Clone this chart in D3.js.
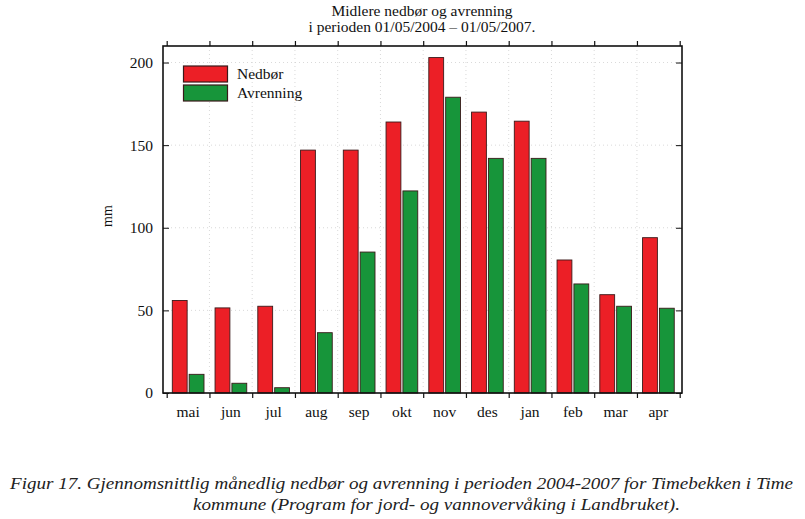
<!DOCTYPE html>
<html><head><meta charset="utf-8">
<script src="https://cdn.jsdelivr.net/npm/d3@7"></script>
<style>body{margin:0;background:#fff}svg{display:block}</style>
</head><body>
<script>
const months = ["mai","jun","jul","aug","sep","okt","nov","des","jan","feb","mar","apr"];
const nedbor = [56, 51.5, 52.5, 147, 147, 164, 203, 170, 164.5, 80.5, 59.5, 94];
const avrenning = [11.3, 5.9, 3.2, 36.5, 85.3, 122.3, 179, 142, 142, 66, 52.5, 51.3];
const seriesNames = ["Nedbør","Avrenning"];
const seriesColors = ["#ec1f26","#17953a"];
const yTicks = [0, 50, 100, 150, 200];
const titleLines = ["Midlere nedbør og avrenning","i perioden 01/05/2004 – 01/05/2007."];
const captionLines = ["Figur 17. Gjennomsnittlig månedlig nedbør og avrenning i perioden 2004-2007 for Timebekken i Time",
                      "kommune (Program for jord- og vannovervåking i Landbruket)."];

const W = 805, H = 519;
const svg = d3.select("body").append("svg").attr("width", W).attr("height", H);
const font = "'Liberation Serif', 'DejaVu Serif', serif";

const frame = {l:163, r:682, t:46, b:393};
const x = d3.scaleBand().domain(months).range([166.7, 679.7]).padding(0);
const xs = d3.scaleBand().domain(seriesNames).range([5.6, 37.3]).paddingInner(0.12);
const y = d3.scaleLinear().domain([0, 210]).range([frame.b, frame.t]);
const color = d3.scaleOrdinal().domain(seriesNames).range(seriesColors);

// grid
const gridG = svg.append("g").attr("stroke", "#cfcfcf").attr("stroke-width", 0.8).attr("stroke-dasharray", "1,3");
const bounds = months.map(m => x(m)).concat([x.range()[1]]);
gridG.selectAll("line.v").data(bounds.slice(1, -1)).join("line")
  .attr("x1", d => d).attr("x2", d => d).attr("y1", frame.t).attr("y2", frame.b);
gridG.selectAll("line.h").data(yTicks.slice(1)).join("line")
  .attr("x1", frame.l).attr("x2", frame.r).attr("y1", d => y(d)).attr("y2", d => y(d));

// bars
const data = months.map((m, i) => ({m, vals: [nedbor[i], avrenning[i]]}));
const g = svg.append("g");
g.selectAll("g.grp").data(data).join("g")
  .attr("transform", d => `translate(${x(d.m)},0)`)
  .selectAll("rect").data(d => d.vals.map((v, j) => ({s: seriesNames[j], v}))).join("rect")
  .attr("x", d => xs(d.s)).attr("width", xs.bandwidth())
  .attr("y", d => y(d.v)).attr("height", d => y(0) - y(d.v))
  .attr("fill", d => color(d.s)).attr("stroke", "#3a1a1a").attr("stroke-width", 0.9);

// frame
svg.append("rect").attr("x", frame.l).attr("y", frame.t).attr("width", frame.r - frame.l).attr("height", frame.b - frame.t)
  .attr("fill", "none").attr("stroke", "#111").attr("stroke-width", 1.6);

// axes
const yAxisL = d3.axisLeft(y).tickValues(yTicks).tickSize(-6).tickPadding(10).tickFormat(d3.format("d"));
const gl = svg.append("g").attr("transform", `translate(${frame.l},0)`).call(yAxisL);
gl.select(".domain").remove();
gl.selectAll("text").attr("font-family", font).attr("font-size", 15.5).attr("fill", "#111");
gl.selectAll("line").attr("stroke", "#111");

const yAxisR = d3.axisRight(y).tickValues(yTicks).tickSize(-6).tickFormat("");
const gr = svg.append("g").attr("transform", `translate(${frame.r},0)`).call(yAxisR);
gr.select(".domain").remove();
gr.selectAll("line").attr("stroke", "#111");

const tickScale = d3.scaleLinear().domain([0, months.length]).range(x.range());
const tickIdx = d3.range(months.length + 1);
const xAxisB = d3.axisBottom(tickScale).tickValues(tickIdx).tickSize(5).tickFormat("");
const gb = svg.append("g").attr("transform", `translate(0,${frame.b})`).call(xAxisB);
gb.select(".domain").remove();
gb.selectAll("line").attr("stroke", "#111").attr("stroke-width", 1.2);
const xAxisT = d3.axisTop(tickScale).tickValues(tickIdx).tickSize(5).tickFormat("");
const gt = svg.append("g").attr("transform", `translate(0,${frame.t})`).call(xAxisT);
gt.select(".domain").remove();
gt.selectAll("line").attr("stroke", "#111").attr("stroke-width", 1.2);

// month labels
const xLab = d3.axisBottom(x).tickSize(0).tickPadding(0);
const gx = svg.append("g").attr("transform", `translate(0,${frame.b + 13})`).call(xLab);
gx.select(".domain").remove();
gx.selectAll("text").attr("font-family", font).attr("font-size", 15.5).attr("fill", "#111").attr("dy", "0.71em");

// y label
svg.append("text").attr("transform", "translate(112,216) rotate(-90)").attr("text-anchor", "middle")
  .attr("font-family", font).attr("font-size", 14).attr("fill", "#111").text("mm");

// title
svg.selectAll("text.title").data(titleLines).join("text").attr("class", "title")
  .attr("x", 422).attr("y", (d, i) => 16 + i * 16).attr("text-anchor", "middle")
  .attr("font-family", font).attr("font-size", 15.5).attr("fill", "#111").text(d => d);

// legend
const lg = svg.append("g");
seriesNames.forEach((s, i) => {
  lg.append("rect").attr("x", 183.5).attr("y", 66 + i * 19).attr("width", 44).attr("height", 16)
    .attr("fill", color(s)).attr("stroke", "#3a1a1a").attr("stroke-width", 1.2);
  lg.append("text").attr("x", 237).attr("y", 79 + i * 19).attr("font-family", font).attr("font-size", 15.5)
    .attr("fill", "#111").text(s);
});

// caption
svg.append("text").attr("x", 10).attr("y", 489).attr("font-family", font).attr("font-style", "italic")
  .attr("font-size", 17.5).attr("fill", "#222").attr("textLength", 783).attr("lengthAdjust", "spacingAndGlyphs").text(captionLines[0]);
svg.append("text").attr("x", 193).attr("y", 510).attr("font-family", font).attr("font-style", "italic")
  .attr("font-size", 17.5).attr("fill", "#222").attr("textLength", 487).attr("lengthAdjust", "spacingAndGlyphs").text(captionLines[1]);
</script>
</body></html>
